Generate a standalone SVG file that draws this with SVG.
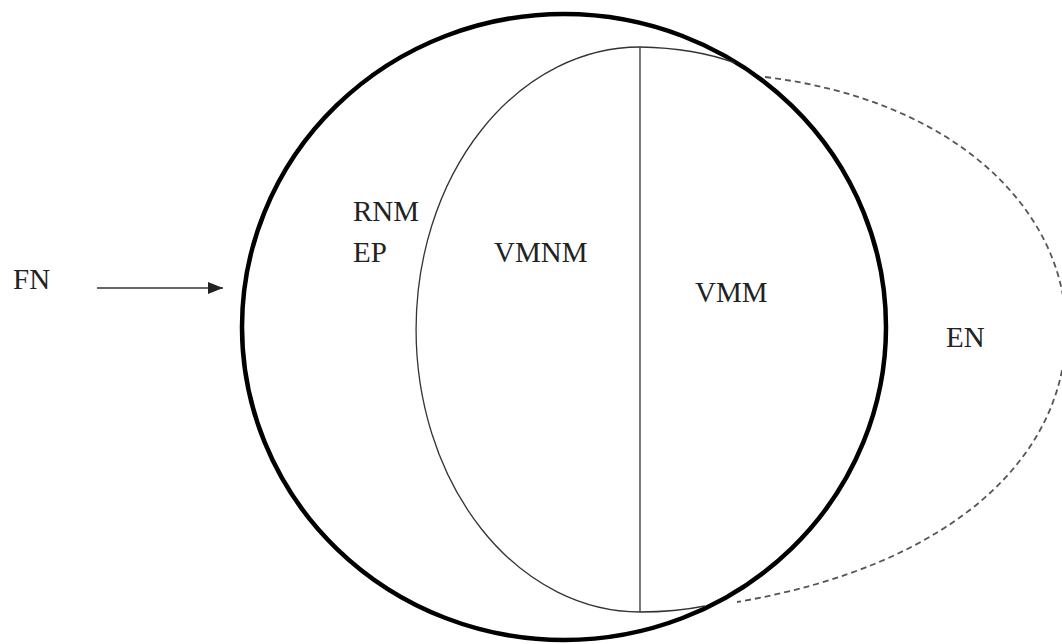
<svg xmlns="http://www.w3.org/2000/svg" width="1062" height="644" viewBox="0 0 1062 644">
<defs>
<style>
.lbl{font-family:"Liberation Serif","Times New Roman",serif;font-size:29px;fill:#222;}
.thin{fill:none;stroke:#333;stroke-width:1.3;}
</style>
<marker id="ah" viewBox="0 0 15 12" refX="15" refY="6" markerWidth="15" markerHeight="12" markerUnits="userSpaceOnUse" orient="auto">
<path d="M0,0 L15,6 L0,12 Z" fill="#222"/>
</marker>
</defs>
<rect width="1062" height="644" fill="#fff"/>
<g id="outer">
<ellipse cx="564" cy="327" rx="322" ry="313" fill="none" stroke="#000" stroke-width="4.5"/>
</g>
<g id="inner">
<path class="thin" d="M735,63 Q695,48 640,47 A224,282.5 0 0 0 640,612 Q675,612 705,606"/>
<line class="thin" x1="640" y1="47" x2="640" y2="612"/>
</g>
<g id="en-region">
<path d="M765,77 C955,100 1066,210 1066,330 C1066,455 955,565 737,602" fill="none" stroke="#555" stroke-width="1.8" stroke-dasharray="6,4"/>
</g>
<g id="connectors">
<line x1="97" y1="288" x2="223" y2="288" stroke="#333" stroke-width="1.6" marker-end="url(#ah)"/>
</g>
<g id="labels">
<text class="lbl" x="13" y="289">FN</text>
<text class="lbl" x="353" y="221">RNM</text>
<text class="lbl" x="353" y="262">EP</text>
<text class="lbl" x="494" y="262">VMNM</text>
<text class="lbl" x="695" y="302">VMM</text>
<text class="lbl" x="946" y="347">EN</text>
</g>
</svg>
